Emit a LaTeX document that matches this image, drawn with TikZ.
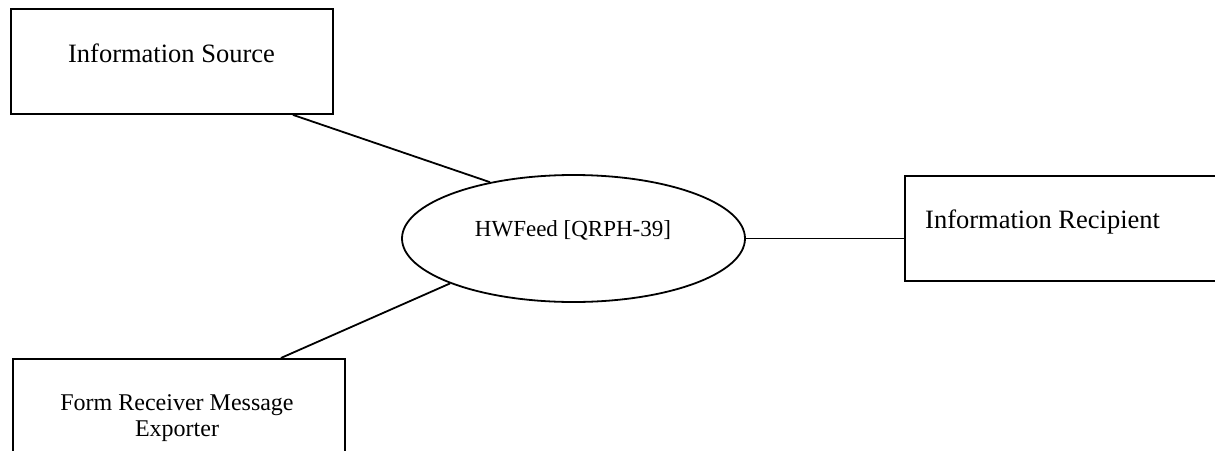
\documentclass[tikz,border=0pt]{standalone}
\usepackage{fontspec}
\setmainfont{Liberation Serif}
\usetikzlibrary{shapes.geometric,calc}
\begin{document}
\begin{tikzpicture}[x=1pt,y=-1pt,
  box/.style={draw,line width=1.8pt,rectangle,inner sep=0pt},
  oval/.style={draw,line width=1.8pt,ellipse,inner sep=0pt,minimum width=343pt,minimum height=127pt},
  link/.style={line width=1.8pt},
  bigtxt/.style={inner sep=0pt,font=\fontsize{26.5}{30}\selectfont},
  midtxt/.style={inner sep=0pt,font=\fontsize{23}{26}\selectfont},
  exptxt/.style={inner sep=0pt,align=center,font=\fontsize{24}{26}\selectfont}]
\useasboundingbox (0,0) rectangle (1215,450);
% boxes
\node[box,minimum width=322pt,minimum height=105pt] (src) at (172,61.5) {};
\node[box,minimum width=321pt,minimum height=105pt,anchor=north west] (rec) at (904,175) {};
\node[box,minimum width=332pt,minimum height=120pt,anchor=north west] (exp) at (12,358) {};
\node[oval] (feed) at (573.5,238.5) {};
% texts
\node[bigtxt,anchor=base] (srct) at (171.5,62) {Information Source};
\node[bigtxt,anchor=base west] (rect) at (925,228) {Information Recipient};
\node[midtxt,anchor=base] (feedt) at (573,236) {HWFeed [QRPH-39]};
\node[exptxt,anchor=center] (expt) at (177,418) {Form Receiver Message\\Exporter};
% connectors
\coordinate (srcend) at ($(src.south)+(121,0)$);
\coordinate (expend) at ($(exp.north)+(102,0)$);
\draw[link] (srcend) -- (feed.146);
\draw[link] (expend) -- (feed.200);
\draw[link] (feed.east) -- (feed.east -| rec.west);
\end{tikzpicture}
\end{document}
